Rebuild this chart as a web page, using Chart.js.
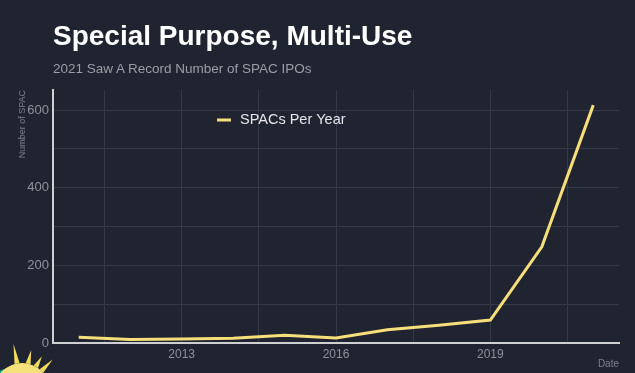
<!DOCTYPE html>
<html>
<head>
<meta charset="utf-8">
<script src="https://cdn.jsdelivr.net/npm/chart.js@4"></script>
<style>
  html, body { margin: 0; padding: 0; background: #1f2430; }
  #wrap { position: relative; width: 635px; height: 373px; overflow: hidden; }
  #graph { position: absolute; left: 0; top: 0; }
  h1 { position: absolute; left: 53px; top: 20px; margin: 0;
       font: bold 28px "Liberation Sans", Arial, sans-serif; color: #ffffff; }
  p.sub { position: absolute; left: 53px; top: 61px; margin: 0;
          font: 13.5px "Liberation Sans", Arial, sans-serif; color: #9b9ea6; }
</style>
</head>
<body>
<div id="wrap">
  <canvas id="graph" width="635" height="373"></canvas>
  <h1>Special Purpose, Multi-Use</h1>
  <p class="sub">2021 Saw A Record Number of SPAC IPOs</p>
</div>
<script>
// données
const years = [2011, 2012, 2013, 2014, 2015, 2016, 2017, 2018, 2019, 2020, 2021]
const spacs = [15, 9, 10, 12, 20, 13, 34, 46, 59, 248, 613]
const seriesLabel = "SPACs Per Year"
const xTickLabels = [2013, 2016, 2019]
const yTickLabels = [0, 200, 400, 600]

const FONT = "'Liberation Sans', Arial, sans-serif"
const GRID = "#333946"
const AXIS = "#cfd0d2"
const TICK = "#8e929a"

// légende dans la zone du graphe
const legendInside = {
    id: 'legendInside',
    afterDatasetsDraw( chart ) {
        const ctx = chart.ctx
        const ds = chart.data.datasets[ 0 ]
        ctx.save()
        ctx.strokeStyle = ds.borderColor
        ctx.lineWidth = 3
        ctx.beginPath()
        ctx.moveTo( 217, 120 )
        ctx.lineTo( 231, 120 )
        ctx.stroke()
        ctx.fillStyle = "#e4e6ea"
        ctx.font = "14.5px " + FONT
        ctx.textBaseline = "middle"
        ctx.fillText( ds.label, 240, 120 )
        ctx.restore()
    }
}

// petit soleil en bas à gauche
const sunLogo = {
    id: 'sunLogo',
    afterDraw( chart ) {
        const ctx = chart.ctx
        ctx.save()
        const cx = 22, cy = 391, r = 28
        ctx.fillStyle = "#f3dc5a"
        const rays = [ [ -1.75, 20 ], [ -1.35, 14 ], [ -1.05, 12 ], [ -0.8, 16 ], [ -0.5, 10 ] ]
        rays.forEach( ( [ a, len ] ) => {
            ctx.beginPath()
            ctx.moveTo( cx + Math.cos( a - 0.09 ) * r, cy + Math.sin( a - 0.09 ) * r )
            ctx.lineTo( cx + Math.cos( a ) * ( r + len ), cy + Math.sin( a ) * ( r + len ) )
            ctx.lineTo( cx + Math.cos( a + 0.09 ) * r, cy + Math.sin( a + 0.09 ) * r )
            ctx.fill()
        } )
        ctx.fillStyle = "#1aa592"
        ctx.beginPath()
        ctx.arc( cx - 8, cy + 4, r, 0, Math.PI * 2 )
        ctx.fill()
        ctx.fillStyle = "#f6e27a"
        ctx.beginPath()
        ctx.arc( cx, cy, r, 0, Math.PI * 2 )
        ctx.fill()
        ctx.restore()
    }
}

const points = years.map( ( y, i ) => ( { x: y, y: spacs[ i ] } ) )

new Chart( document.getElementById( 'graph' ), {
    type: 'line',
    data: {
        datasets: [ {
            label: seriesLabel,
            data: points,
            borderColor: "#f6df7b",
            borderWidth: 3,
            pointRadius: 0,
            tension: 0,
            fill: false
        } ]
    },
    options: {
        responsive: false,
        animation: false,
        layout: { padding: { top: 90, right: 16, left: 0, bottom: 0 } },
        plugins: {
            legend: { display: false },
            tooltip: { enabled: false }
        },
        scales: {
            x: {
                type: 'linear',
                min: 2010.5,
                max: 2021.5,
                afterFit( scale ) { scale.height = 30 },
                grid: { color: GRID, lineWidth: 1, drawTicks: false },
                border: { color: AXIS, width: 2 },
                ticks: {
                    stepSize: 1.5,
                    includeBounds: false,
                    autoSkip: false,
                    maxRotation: 0,
                    padding: 4,
                    color: TICK,
                    font: { family: FONT, size: 12 },
                    callback: v => xTickLabels.includes( v ) ? String( v ) : ''
                },
                title: {
                    display: true,
                    text: 'Date',
                    align: 'end',
                    color: "#7d818a",
                    font: { family: FONT, size: 10 },
                    padding: { top: 0, bottom: 3 }
                }
            },
            y: {
                min: 0,
                max: 652,
                afterFit( scale ) { scale.width = 53 },
                grid: { color: GRID, lineWidth: 1, drawTicks: false },
                border: { color: AXIS, width: 2 },
                ticks: {
                    stepSize: 100,
                    includeBounds: false,
                    padding: 4,
                    color: TICK,
                    font: { family: FONT, size: 13 },
                    callback: v => yTickLabels.includes( v ) ? String( v ) : ''
                },
                title: {
                    display: true,
                    text: 'Number of SPAC',
                    align: 'end',
                    color: "#7d818a",
                    font: { family: FONT, size: 9 },
                    padding: { top: 17, bottom: 0 }
                }
            }
        }
    },
    plugins: [ legendInside, sunLogo ]
} );
</script>
</body>
</html>
